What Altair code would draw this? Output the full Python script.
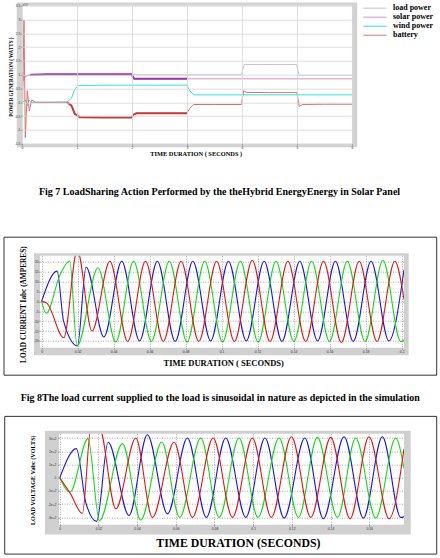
import altair as alt
import pandas as pd

SERIF = "Liberation Serif"
SANS = "Liberation Sans"
MINUS_FIX = "replace(datum.label, '\u2212', '-')"

# ---------------- Fig 7 : load sharing (values in x10^4 W) ----------------
power_names = ["load power", "solar power", "wind power", "battery"]
power_colors = ["#c9c3cf", "#d98fc6", "#35dede", "#d97070"]
power_widths = [1.0, 1.0, 2.0, 1.0]

load_t = [0.0, 0.03, 0.1, 0.3, 1.0, 2.0, 3.0, 3.99, 4.04, 4.5, 4.99, 5.04, 5.5, 6.0]
load_v = [0.85, 0.94, 0.98, 1.0, 1.0, 1.0, 1.0, 1.0, 1.37, 1.37, 1.37, 0.98, 0.98, 0.98]

solar_t = [0.0, 0.012, 0.03, 0.06, 0.15, 0.5, 1.0, 1.99, 2.04, 2.5, 3.0, 4.0, 5.0, 6.0]
solar_v = [0.4, 1.1, 0.78, 0.93, 1.0, 1.02, 1.02, 1.02, 0.85, 0.85, 0.85, 0.85, 0.85, 0.85]

wind_t = [0.0, 0.07, 0.1, 0.13, 0.17, 0.25, 0.5, 0.82, 0.9, 0.96, 1.03, 1.5, 2.0, 2.5,
          3.0, 3.05, 3.12, 4.0, 5.0, 6.0]
wind_v = [0.0, 0.08, -0.12, 0.09, -0.02, 0.0, 0.0, 0.01, 0.15, 0.48, 0.61, 0.62, 0.62, 0.62,
          0.62, 0.42, 0.27, 0.27, 0.27, 0.27]

batt_t = [0.0, 0.012, 0.036, 0.06, 0.096, 0.133, 0.176, 0.25, 0.82, 0.9,
          0.96, 1.05, 1.5, 1.99, 2.03, 2.08, 2.5, 3.0, 3.05, 3.12,
          3.5, 3.99, 4.03, 4.08, 4.5, 5.0, 5.04, 5.1, 5.5, 6.0]
batt_v = [0.0, 0.06, 2.98, -1.28, 0.42, -0.31, 0.08, 0.0, 0.0, -0.12,
          -0.42, -0.54, -0.55, -0.55, -0.45, -0.40, -0.40, -0.40, -0.22, -0.08,
          -0.08, -0.08, 0.42, 0.36, 0.35, 0.35, -0.15, -0.08, -0.07, -0.07]

power_x_ticks = [0, 1, 2, 3, 4, 5, 6]
power_y_ticks = [-1.5, -1, -0.5, 0, 0.5, 1, 1.5, 2, 2.5, 3, 3.5]

# ---------------- Fig 8 : load current (A) ----------------
phase_names = ["a", "b", "c"]
phase_colors = ["#1515e6", "#16dc16", "#e61515"]

cur_a_t = [0, 0.0086, 0.0122, 0.0199, 0.0247, 0.0346, 0.0445, 0.0544, 0.0643, 0.0742, 0.0840,
           0.0939, 0.1038, 0.1137, 0.1236, 0.1335, 0.1434, 0.1533, 0.1632, 0.1731, 0.1830,
           0.1929, 0.2013]
cur_a_v = [0, 15.3, -10, -22.5, 17.4, -18, 20.3, -20, 20.3, -20.2, 20.3,
           -20, 20.3, -20, 20.3, -20.2, 20.3, -20, 20.3, -20.2, 20.3,
           -20, 16]
cur_b_t = [0, 0.0025, 0.0104, 0.0156, 0.0197, 0.0313, 0.0412, 0.0511, 0.0610, 0.0709, 0.0808,
           0.0906, 0.1005, 0.1104, 0.1203, 0.1302, 0.1401, 0.1500, 0.1599, 0.1698, 0.1797,
           0.1896, 0.1995, 0.2013]
cur_b_v = [0, -6, 13.8, 20.4, -22.5, 17, -20.5, 20.3, -20.3, 20.3, -20.5,
           20.3, -20.5, 20.3, -20.5, 20.3, -20.3, 20.3, -20.3, 20.3, -20.3,
           20.8, -20.3, -19.5]
cur_c_t = [0, 0.003, 0.0123, 0.0198, 0.0280, 0.0379, 0.0478, 0.0577, 0.0676, 0.0775, 0.0873,
           0.0972, 0.1071, 0.1170, 0.1269, 0.1368, 0.1467, 0.1566, 0.1665, 0.1764, 0.1863,
           0.1962, 0.2013]
cur_c_v = [0, -1, -18.4, 26, -15, 20.3, -20.3, 20.3, -20.3, 20.3, -20.3,
           20.3, -20.3, 20.8, -20.3, 20.3, -20.3, 20.3, -20.8, 20.3, -20.3,
           20.3, 1]
cur_x_ticks = [0, 0.02, 0.04, 0.06, 0.08, 0.1, 0.12, 0.14, 0.16, 0.18, 0.2]
cur_y_ticks = [-20, -15, -10, -5, 0, 5, 10, 15, 20]

# ---------------- load voltage (V) ----------------
vol_a_t = [0, 0.0086, 0.0135, 0.0191, 0.0250, 0.0358, 0.0453, 0.0557, 0.0660, 0.0758, 0.0858,
           0.0962, 0.1061, 0.1160, 0.1267, 0.1363, 0.1470, 0.1570, 0.1668, 0.1763, 0.1780]
vol_a_v = [0, 220, -190, -330, 268, -285, 325, -273, 300, -300, 300,
           -300, 300, -305, 300, -310, 310, -305, 310, -300, -296]
vol_b_t = [0, 0.0053, 0.0146, 0.0205, 0.0324, 0.0419, 0.0527, 0.0620, 0.0729, 0.0824, 0.0927,
           0.1025, 0.1134, 0.1234, 0.1332, 0.1436, 0.1530, 0.1634, 0.1737, 0.1780]
vol_b_v = [0, -108, 296, -325, 258, -320, 270, -300, 300, -300, 300,
           -300, 300, -300, 305, -300, 300, -305, 300, 70]
vol_c_t = [0, 0.0055, 0.0117, 0.0162, 0.0205, 0.0290, 0.0393, 0.0479, 0.0591, 0.0686, 0.0793,
           0.0893, 0.0996, 0.1094, 0.1198, 0.1298, 0.1401, 0.1501, 0.1599, 0.1703, 0.1780]
vol_c_v = [0, -120, -270, 390, 380, -235, 300, -300, 268, -300, 300,
           -300, 300, -300, 310, -300, 305, -310, 310, -310, 219]
vol_x_ticks = [0, 0.02, 0.04, 0.06, 0.08, 0.1, 0.12, 0.14, 0.16]
vol_y_ticks = [-300, -200, -100, 0, 100, 200, 300]

caption7 = "Fig 7  LoadSharing Action Performed by the theHybrid EnergyEnergy in Solar Panel"
caption8 = "Fig 8The load current supplied to the load is sinusoidal in nature as depicted in the simulation"
scale_note = ["x10\u2074"]


def long_table(names, ts, vs, key):
    rows = []
    for n, tt, vv in zip(names, ts, vs):
        for a, b in zip(tt, vv):
            rows.append({key: n, "t": a, "v": b})
    return pd.DataFrame(rows)


power_df = long_table(power_names, [load_t, solar_t, wind_t, batt_t],
                      [load_v, solar_v, wind_v, batt_v], "series")
cur_df = long_table(phase_names, [cur_a_t, cur_b_t, cur_c_t], [cur_a_v, cur_b_v, cur_c_v], "phase")
vol_df = long_table(phase_names, [vol_a_t, vol_b_t, vol_c_t], [vol_a_v, vol_b_v, vol_c_v], "phase")
one = pd.DataFrame({"k": [0]})


def rect(x, x2, y, y2, fill, stroke=None, sw=0.0):
    kw = {"fill": fill}
    if stroke:
        kw.update(stroke=stroke, strokeWidth=sw)
    else:
        kw.update(strokeWidth=0)
    return alt.Chart(one).mark_rect(**kw).encode(
        x=alt.value(x), x2=alt.value(x2), y=alt.value(y), y2=alt.value(y2))


def axis(values, title, tx, ty, tsize, grid_color, grid_width, grid_dash=None,
         vertical=False, lpad=0.8):
    kw = dict(values=values, format="~g", labelExpr=MINUS_FIX, title=title,
              titleX=tx, titleY=ty, titleFont=SERIF, titleFontWeight="bold",
              titleFontSize=tsize, titleAlign="center", titleBaseline="middle",
              titleColor="black", labelFont=SANS, labelFontSize=3.4, labelColor="#333",
              labelPadding=lpad, tickSize=1.5, tickColor="#666", tickWidth=0.5,
              domain=False, grid=True, gridColor=grid_color, gridWidth=grid_width,
              zindex=1, labelOverlap=False, labelFlush=False)
    if grid_dash:
        kw["gridDash"] = grid_dash
    if vertical:
        kw["titleAngle"] = 270
    return alt.Axis(**kw)


def spacer(w, h):
    return alt.Chart(one).mark_point(size=1, opacity=0).encode(
        x=alt.value(w / 2), y=alt.value(h / 2)).properties(width=w, height=h)


# ---------------- chart 1 ----------------
W1, H1 = 330, 138
x1 = alt.X("t:Q", scale=alt.Scale(domain=[0, 6], nice=False, zero=False),
           axis=axis(power_x_ticks, "TIME DURATION ( SECONDS )", 173.7, 9.8, 6.4,
                     "#d6d6d6", 0.8, lpad=0.4))
y1 = alt.Y("v:Q", scale=alt.Scale(domain=[-1.5, 3.5], nice=False, zero=False),
           axis=axis(power_y_ticks, "POWER GENERATION ( WATTS )", -11.5, 71, 5.1,
                     "#d6d6d6", 0.8, vertical=True, lpad=0.5))

lines1 = alt.Chart(power_df).mark_line(clip=True).encode(
    x=x1, y=y1,
    color=alt.Color("series:N", scale=alt.Scale(domain=power_names, range=power_colors),
                    legend=alt.Legend(orient="none", legendX=348.4, legendY=-2, title=None,
                                      symbolType="M-3,0H3", symbolSize=60,
                                      symbolStrokeWidth=1.6, labelFont=SERIF,
                                      labelFontWeight="bold", labelFontSize=8,
                                      labelColor="black", labelOffset=13.6,
                                      rowPadding=0, padding=0)),
    strokeWidth=alt.StrokeWidth("series:N",
                                scale=alt.Scale(domain=power_names, range=power_widths),
                                legend=None))
solar_thick = alt.Chart(power_df).transform_filter(
    (alt.datum.series == "solar power") & (alt.datum.t >= 0.15) & (alt.datum.t <= 3.0)
).mark_line(color="#9a35a8", strokeWidth=2, clip=True).encode(x=x1, y=y1)
batt_thick = alt.Chart(power_df).transform_filter(
    (alt.datum.series == "battery") & (alt.datum.t >= 0.82) & (alt.datum.t <= 3.0)
).mark_line(color="#c23a3a", strokeWidth=2, clip=True).encode(x=x1, y=y1)
note = alt.Chart(pd.DataFrame({"s": scale_note})).mark_text(
    font=SANS, fontSize=3, color="#333", align="left", baseline="middle").encode(
    text="s:N", x=alt.value(0.5), y=alt.value(-1))

chart1 = alt.layer(
    rect(-5.3, 335.3, -3.3, 141.5, "#d2d2d2"),
    rect(0, W1, 0, H1, "white"),
    lines1, solar_thick, batt_thick, note,
).properties(width=W1, height=H1,
             title=alt.TitleParams(text=caption7, orient="bottom", anchor="middle",
                                   frame="group", dx=32.5, offset=35, font=SERIF,
                                   fontSize=10, fontWeight="bold", color="black",
                                   baseline="middle"))

# ---------------- chart 2 ----------------
W2, H2 = 364, 92
x2 = alt.X("t:Q", scale=alt.Scale(domain=[-0.0009, 0.2013], nice=False, zero=False),
           axis=axis(cur_x_ticks, "TIME DURATION ( SECONDS)", 183.2, 15.2, 8.5,
                     "#555", 0.5, [1, 1.5]))
y2 = alt.Y("v:Q", scale=alt.Scale(domain=[-23.4, 23.1], nice=False, zero=False),
           axis=axis(cur_y_ticks, "LOAD CURRENT Iabc (AMPERES)", -16.6, 48.5, 7.3,
                     "#555", 0.5, [1, 1.5], vertical=True, lpad=0.3))
lines2 = alt.Chart(cur_df).mark_line(interpolate="monotone", strokeWidth=1.1, clip=True).encode(
    x=x2, y=y2,
    color=alt.Color("phase:N", scale=alt.Scale(domain=phase_names, range=phase_colors),
                    legend=None))
chart2 = alt.layer(
    rect(-36, 396.7, -18.5, 119.5, "white", "#333", 1),
    rect(-6, 368.7, -2.5, 99.5, "#d0d0d0"),
    rect(0, W2, 0, H2, "white"),
    lines2,
).properties(width=W2, height=H2,
             title=alt.TitleParams(text=caption8, orient="bottom", anchor="middle",
                                   frame="group", dx=-1.8, offset=22.7, font=SERIF,
                                   fontSize=10, fontWeight="bold", color="black",
                                   baseline="middle"))

# ---------------- chart 3 ----------------
W3, H3 = 345, 91
x3 = alt.X("t:Q", scale=alt.Scale(domain=[-0.0004, 0.178], nice=False, zero=False),
           axis=axis(vol_x_ticks, "TIME DURATION (SECONDS)", 178.9, 17.4, 11.8,
                     "#555", 0.5, [1, 1.5]))
y3 = alt.Y("v:Q", scale=alt.Scale(domain=[-355, 333], nice=False, zero=False),
           axis=axis(vol_y_ticks, "LOAD VOLTAGE Vabc (VOLTS)", -26.6, 46, 6.2,
                     "#555", 0.5, [1, 1.5], vertical=True, lpad=1.5))
lines3 = alt.Chart(vol_df).mark_line(interpolate="monotone", strokeWidth=1.1, clip=True).encode(
    x=x3, y=y3,
    color=alt.Color("phase:N", scale=alt.Scale(domain=phase_names, range=phase_colors),
                    legend=None))
chart3 = alt.layer(
    rect(-54.3, 377.7, -17.3, 120.4, "white", "#333", 1),
    rect(-14, 351.7, -3, 100.7, "#d0d0d0"),
    rect(0, W3, 0, H3, "white"),
    lines3,
).properties(width=W3, height=H3)

row1 = alt.hconcat(spacer(22, 10), chart1, spacing=0, bounds="flush").resolve_scale(
    color="independent", strokeWidth="independent")
row2 = alt.hconcat(spacer(39.3, 10), chart2, spacing=0, bounds="flush").resolve_scale(
    color="independent")
row3 = alt.hconcat(spacer(58.3, 10), chart3, spacing=0, bounds="flush").resolve_scale(
    color="independent")

# nested rows collapse to zero height in the flush layout, so the spacer rows
# carry the full distance from one plot top to the next
chart = alt.vconcat(
    row1, spacer(10, 249.5), row2, spacer(10, 177.8), row3,
    spacing=0, bounds="flush",
).resolve_scale(
    color="independent", strokeWidth="independent"
).properties(
    padding={"left": 0, "top": 1.7, "right": 0, "bottom": 0},
    background="white",
).configure_view(stroke=None)

chart.save("out.html", embed_options={"renderer": "svg", "actions": False})
